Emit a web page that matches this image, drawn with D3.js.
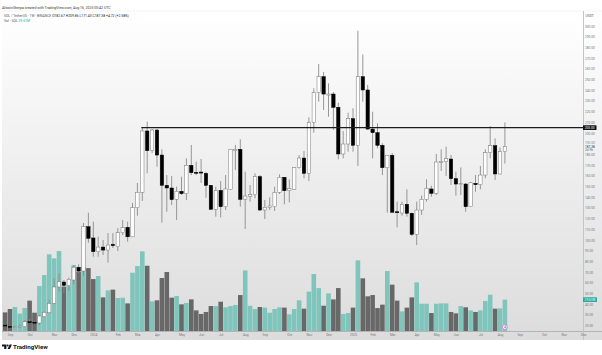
<!DOCTYPE html>
<html>
<head>
<meta charset="utf-8">
<script src="https://cdn.jsdelivr.net/npm/d3@7"></script>
<style>
  html, body { margin: 0; padding: 0; background: #fff; }
  svg { display: block; }
  text { font-family: Roboto, "Liberation Sans", sans-serif; }
</style>
</head>
<body>
<script>
const width = 602;
const height = 355;

// Weekly SOL/USDT candles
const opens = [20.5,19.3,18.3,19,19,23.6,23.2,22.4,28.3,32,40.8,56.1,60.7,57.3,62.6,74.5,71,112.4,101.9,89.1,93.4,90.6,96,93.7,106.8,111.9,103,130.2,144.6,201.9,183.5,202.8,179.4,151.1,148.6,138,145.5,143.3,169.8,163.3,163.5,162.3,151.1,128.7,146.4,131.1,147.4,184.1,184.8,138,140.8,142.3,159.2,128,130.6,131.1,144.6,158.6,146.1,147.4,167.6,176.6,162.3,209.9,237.7,252.6,235.8,236.4,224,180.4,189.7,213.4,188.5,252.6,240.2,203.7,200.3,188.5,167.6,179.2,126.4,125.2,133.4,125,105.3,128,138,147.7,143.6,172.9,173.2,175.7,157.3,152,152.3,131.1,153,151.7,160.7,181.6,188.1,161.7,182.67];
const highs = [21.5,20,19.5,21,25.2,26,24.5,30,33.6,43.9,64.2,68.9,62.6,64.8,76.6,77.3,115.9,125.5,117.1,103.1,100,106.5,106.5,111.2,118.7,117.1,134.6,153.3,204.7,210.6,203.7,203.7,184.8,160.7,159.8,149.8,159.2,176.3,188.8,173.2,175.7,163.8,151.4,149.8,155.1,160.7,185,188.8,194.1,163.8,151.4,162.3,160.7,137.4,139.9,149.8,161.4,158.9,156.7,167.8,179.4,183.2,214.7,241.8,264.5,257,246.4,238.3,228.3,201.9,219,223.1,295.6,273.5,244.9,219.9,209.1,190.4,179.4,181.3,135.8,135.8,147.4,125.5,135.8,141.4,156.7,150.7,180.4,184.8,187.2,179.4,163.8,167.9,153.3,154.2,160.7,169.2,184.8,206.5,195,186.3,209.86];
const lows = [19,18,18,18.5,18.3,22.5,22,20.5,27.4,31.5,39.9,51.7,50.2,52.6,58.6,68.9,66.3,97.5,84.4,84.4,86,78.8,92.5,89.7,104.7,98.4,102.8,122.7,136.4,162.3,181.3,168.5,116.2,126.4,132.7,118.7,142,137.4,160.7,160.7,153.3,139.5,128.5,121.8,121.2,128,147.2,165.4,131.1,110.3,135.8,139,127.6,119.6,128,127.1,143,133.4,135.2,147.2,166.8,157.7,155.1,200.3,229.2,221.5,215.2,202.8,175.4,176.3,182.5,182.5,169.2,229.2,202.8,176.3,185.7,160.7,125.5,125.7,111.9,122.7,121.8,103.7,95.3,123.4,135.8,140.5,142,164.5,159.8,151.4,141.4,142,126.4,130.8,145.1,147.4,157.7,176.3,156.1,161.2,171.43];
const closes = [19.6,18.4,18.9,19.5,23.6,23.2,22.7,29,32.4,40.8,56.1,61,57.6,63.3,74.5,71,112.4,101.6,89.1,93.4,90.6,95.3,94.7,106.8,111.5,103,130.2,144.6,201.9,183.5,202.8,179.4,151.1,148.6,137.7,145.5,143.3,169.8,162.9,162.6,162.6,151.1,128.7,146.4,131.1,147.7,184.8,184.8,138,141.1,142.3,159.2,128,130.6,131.8,144.6,158.6,146.1,148,167.6,176.6,162.3,209.8,237.7,252.6,236.4,236.4,224,180.4,189.7,213.4,188.5,252.6,240.2,203.7,200.3,188.5,167.6,179.2,125.9,125.5,133.4,125,105.3,128,138,148.3,143.6,172.9,173.5,176,157.3,152.3,152.6,131.1,153.5,151.7,160.7,181.6,188.1,161.7,182.5,187.38];

// Weekly volume in millions
const volumes = [17.6,20.8,22.7,16.4,21.7,28.7,17.3,42.5,52.9,72.5,68.7,75.6,41.9,43.5,62.4,56.1,60.8,59.5,49.1,52,31.8,38.4,39.1,31.2,31.5,26.1,55.1,61.4,75.3,61.7,28,29,50.1,55.8,31.5,33.1,25.2,26.5,29.9,19.5,16.1,18,23.6,23.6,27.7,22.4,23.6,24.6,34,57.3,23.9,20.8,22.7,22.1,17.3,20.8,22.4,22.1,15.8,20.8,29,21.1,37.2,53.9,40.6,23.9,35.6,29.9,40.6,16.1,17,22.1,66.8,49.8,32.8,34,21.7,24.9,56.7,43.8,28.7,18.6,22.1,31.8,46,25.8,25.8,17,25.8,26.1,26.1,18,16.7,23.6,22.4,19.5,18,19.5,28.4,34.3,21.1,21.4,29.61];

const priceTicks = [300,290,280,270,260,250,240,230,220,210,200,180,170,160,150,140,130,120,110,100,90,80,70,60,50,40,30,20];
const timeTickWeeks = [1,5,10,14,18,23,27,31,36,40,44,49,53,58,62,66,71,75,79,84,88,92,97,101,105,110,114,118];
const timeTickLabels = ["Sep","Oct","Nov","Dec","2024","Feb","Mar","Apr","May","Jun","Jul","Aug","Sep","Oct","Nov","Dec","2025","Feb","Mar","Apr","May","Jun","Jul","Aug","Sep","Oct","Nov","Dec"];

const resistance = 205;
const resistanceStart = 28;
const lastVolume = 29.61;
const lastPrice = 187.38;

const candles = opens.map((o, i) => ({ i, o, h: highs[i], l: lows[i], c: closes[i], v: volumes[i] }));

// Chart frame
const plotLeft = 2, plotRight = 583, plotTop = 11, plotBottom = 331, stripBottom = 340;

const x = d3.scaleLinear().domain([0, 102]).range([5.1, 504.9]);
const y = d3.scaleLinear().domain([20, 300]).range([325.6, 26]);
const yVol = d3.scaleLinear().domain([0, 80]).range([plotBottom, plotBottom - 84.6]);

const svg = d3.select("body").append("svg")
    .attr("width", width)
    .attr("height", height);

const defs = svg.append("defs");
const grad = defs.append("linearGradient")
    .attr("id", "bg").attr("x1", 0).attr("y1", 0).attr("x2", 0).attr("y2", 1);
grad.append("stop").attr("offset", "0%").attr("stop-color", "#ffffff");
grad.append("stop").attr("offset", "100%").attr("stop-color", "#dcdcdc");

svg.append("rect").attr("x", plotLeft).attr("y", plotTop)
    .attr("width", width - plotLeft).attr("height", stripBottom - plotTop)
    .attr("fill", "url(#bg)");

// Axis strip borders
svg.append("line").attr("x1", plotLeft).attr("x2", width)
    .attr("y1", plotTop).attr("y2", plotTop).attr("stroke", "#ececec").attr("stroke-width", 0.6);
svg.append("line").attr("x1", plotLeft).attr("x2", width)
    .attr("y1", plotBottom + 0.5).attr("y2", plotBottom + 0.5).attr("stroke", "#b4b4b4");
svg.append("line").attr("x1", plotRight + 0.5).attr("x2", plotRight + 0.5)
    .attr("y1", plotTop).attr("y2", stripBottom).attr("stroke", "#c4c4c4");

// Volume bars sit behind the candles
svg.append("g").selectAll("rect")
    .data(candles)
    .enter().append("rect")
    .attr("x", d => x(d.i) - 2.3)
    .attr("width", 4.6)
    .attr("y", d => yVol(d.v))
    .attr("height", d => yVol(0) - yVol(d.v))
    .attr("fill", d => d.c >= d.o ? "#7fc5bb" : "#686868");

// Wicks
svg.append("g").selectAll("line")
    .data(candles)
    .enter().append("line")
    .attr("x1", d => x(d.i))
    .attr("x2", d => x(d.i))
    .attr("y1", d => y(d.h))
    .attr("y2", d => y(d.l))
    .attr("stroke", "#8c8c8c")
    .attr("stroke-width", 0.9);

// Candle bodies
svg.append("g").selectAll("rect")
    .data(candles)
    .enter().append("rect")
    .attr("x", d => x(d.i) - 1.7)
    .attr("width", 3.4)
    .attr("y", d => y(Math.max(d.o, d.c)))
    .attr("height", d => Math.max(1, Math.abs(y(d.o) - y(d.c))))
    .attr("fill", d => d.c >= d.o ? "#ffffff" : "#000000")
    .attr("stroke", d => d.c >= d.o ? "#777777" : "#000000")
    .attr("stroke-width", 0.5);

// Horizontal resistance line
svg.append("line")
    .attr("x1", x(resistanceStart) - 1)
    .attr("x2", plotRight)
    .attr("y1", y(resistance))
    .attr("y2", y(resistance))
    .attr("stroke", "#1c1c1c")
    .attr("stroke-width", 1.3);

// Price axis
const yAxis = d3.axisRight(y).tickValues(priceTicks).tickSize(0).tickPadding(0)
    .tickFormat(d3.format(".2f"));
svg.append("g").attr("transform", `translate(${plotRight + 2},0)`).call(yAxis)
    .call(g => g.select(".domain").remove())
    .selectAll("text").attr("fill", "#777").style("font-size", "3.2px");

// Time axis
const xAxis = d3.axisBottom(x).tickValues(timeTickWeeks).tickSize(0).tickPadding(0)
    .tickFormat((d, i) => timeTickLabels[i]);
svg.append("g").attr("transform", `translate(0,${plotBottom + 2.5})`).call(xAxis)
    .call(g => g.select(".domain").remove())
    .selectAll("text").attr("fill", "#777").style("font-size", "3.2px");

svg.append("text").attr("x", 589.7).attr("y", 17.2).attr("text-anchor", "middle")
    .attr("fill", "#555").style("font-size", "3.3px").text("USDT");

// Price labels on the axis
svg.append("rect").attr("x", plotRight).attr("y", y(resistance) - 2.4)
    .attr("width", 13.5).attr("height", 4.8).attr("rx", 0.6).attr("fill", "#111");
svg.append("text").attr("x", plotRight + 6.7).attr("y", y(resistance) + 1.2)
    .attr("text-anchor", "middle").attr("fill", "#fff").style("font-size", "3.2px")
    .text(d3.format(".2f")(resistance));

[["190.00", -3.4, "#8a8a8a"], [d3.format(".2f")(lastPrice), 0, "#333"], ["2d 9h", 3.4, "#555"]].forEach(r => {
    svg.append("text").attr("x", plotRight + 2).attr("y", y(lastPrice) + r[1] + 1.2)
        .attr("fill", r[2]).style("font-size", "3.2px").text(r[0]);
});

svg.append("rect").attr("x", plotRight).attr("y", yVol(lastVolume) - 2.4)
    .attr("width", 14).attr("height", 4.8).attr("rx", 0.6).attr("fill", "#2aa79b");
svg.append("text").attr("x", plotRight + 7).attr("y", yVol(lastVolume) + 1.2)
    .attr("text-anchor", "middle").attr("fill", "#fff").style("font-size", "3.2px")
    .text(lastVolume.toFixed(2) + "M");

// Small marker under the last bar
svg.append("circle").attr("cx", x(102)).attr("cy", 327).attr("r", 2.4)
    .attr("fill", "#fff").attr("stroke", "#c48ee0").attr("stroke-width", 1);
svg.append("text").attr("x", x(102)).attr("y", 328.3).attr("text-anchor", "middle")
    .attr("fill", "#7a4fa0").style("font-size", "3.6px").text("4");

// Header text
svg.append("text").attr("x", 2).attr("y", 9).attr("fill", "#333")
    .style("font-size", "3.5px")
    .text("AltcoinSherpa created with TradingView.com, Aug 16, 2025 00:42 UTC");

const legend = svg.append("text").attr("x", 4).attr("y", 17).style("font-size", "3.4px").attr("fill", "#555");
legend.append("tspan").text("SOL / TetherUS · 1W · BINANCE  ");
legend.append("tspan").attr("fill", "#222").text("O182.67 H209.86 L171.43 C187.38 +4.72 (+2.58%)");

const volLegend = svg.append("text").attr("x", 4).attr("y", 21.8).style("font-size", "3.4px").attr("fill", "#555");
volLegend.append("tspan").text("Vol · SOL  ");
volLegend.append("tspan").attr("fill", "#26a69a").text("29.61M");

// TradingView footer
const logo = svg.append("g").attr("fill", "#131722");
logo.append("path").attr("d", "M2 344.5h4.4v4.6h-2.2v-2.6H2z");
logo.append("circle").attr("cx", 7.6).attr("cy", 345.5).attr("r", 1);
logo.append("path").attr("d", "M9.6 344.5h2.3l-2 4.6H7.6z");
svg.append("text").attr("x", 13).attr("y", 349.4).attr("fill", "#131722")
    .style("font-size", "6.2px").style("font-weight", 700).text("TradingView");
</script>
</body>
</html>
